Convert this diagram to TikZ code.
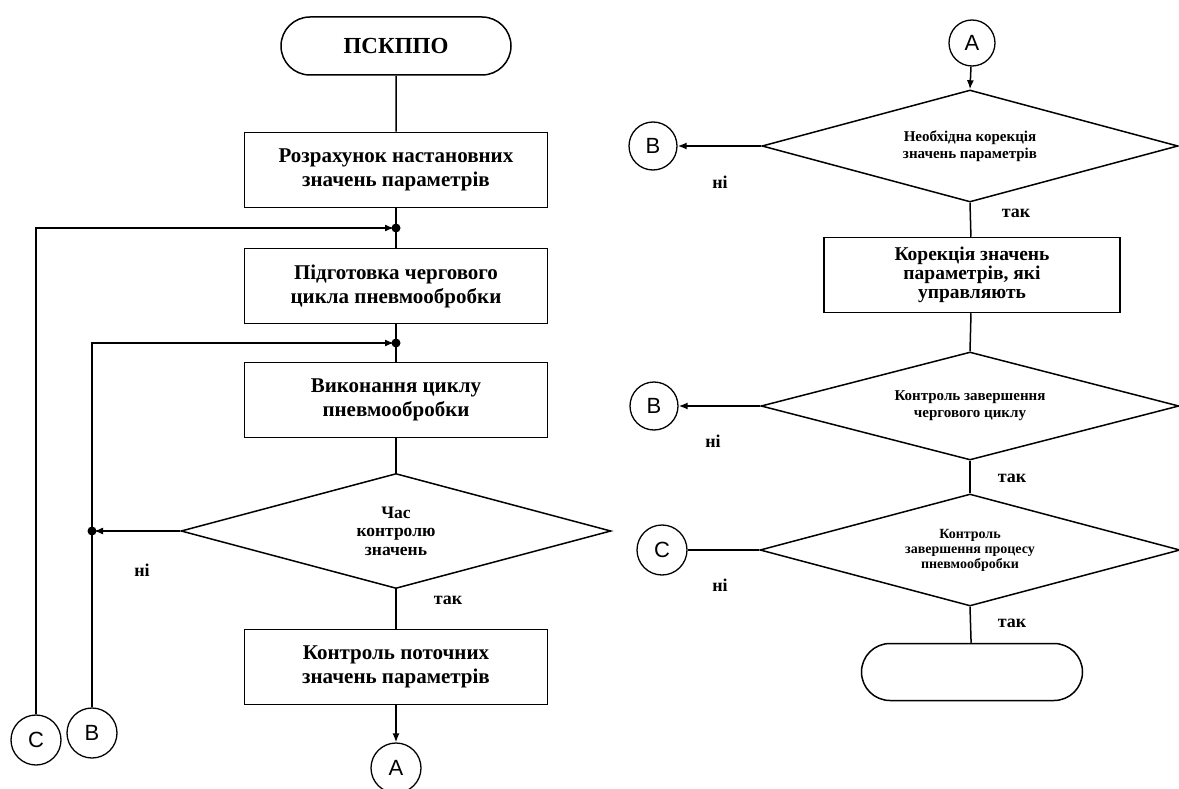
\documentclass[tikz,border=0pt]{standalone}
\usepackage{fontspec}
\setmainfont{Liberation Serif}
\newfontfamily\sansf{Liberation Sans}
\usetikzlibrary{shapes.geometric,shapes.misc,arrows.meta}
\tikzset{
  ln/.style={line width=1.5pt},
  blk/.style={draw, line width=1.5pt, minimum width=303pt, minimum height=75pt, align=center, inner sep=0pt,
    font=\bfseries\fontsize{21}{24}\selectfont},
  term/.style={draw, rounded rectangle, line width=1.5pt, minimum width=230pt, minimum height=58pt, inner sep=0pt,
    font=\bfseries\fontsize{23}{26}\selectfont},
  dec/.style={draw, diamond, line width=1.5pt, aspect=3.8, inner sep=0pt, align=center},
  conn/.style={draw, circle, line width=1.3pt, minimum size=50pt, inner sep=0pt, font=\sansf\fontsize{22}{22}\selectfont},
  arr/.style={line width=1.5pt, -{Latex[length=9pt,width=7pt]}},
  lbl/.style={font=\bfseries\fontsize{18}{18}\selectfont},
}
\begin{document}
\begin{tikzpicture}[x=1pt,y=-1pt]
\fill[white] (0,0) rectangle (1179,789);
\useasboundingbox (0,0) rectangle (1179,789);
% ---------- left column ----------
\node[term] (T1) at (396,46) {ПСКППО};
\node[blk] (P1) at (396,170) {Розрахунок настановних\\значень параметрів};
\coordinate (J1) at (396,228);
\node[blk] (P2) at (396,286) {Підготовка чергового\\цикла пневмообробки};
\coordinate (J2) at (396,343);
\node[blk] (P3) at (396,400) {Виконання циклу\\пневмообробки};
\node[dec, minimum width=430pt, minimum height=115pt, font=\bfseries\fontsize{17.5}{18.5}\selectfont] (D1) at (396,531) {Час\\контролю\\значень};
\coordinate (J3) at (92,531);
\node[blk] (P4) at (396,667) {Контроль поточних\\значень параметрів};
\node[conn] (A1) at (396,768) {A};
\node[conn] (C1) at (36,740) {C};
\node[conn] (B1) at (92,733) {B};
\node[lbl] (n1) at (142,570) {ні};
\node[lbl] (t1) at (448,600) {так};
\draw[ln] (T1) -- (P1);
\draw[ln] (P1) -- (P2);
\draw[ln] (P2) -- (P3);
\draw[ln] (P3) -- (D1);
\draw[ln] (D1) -- (P4);
\draw[arr] (P4) -- (A1);
\draw[arr, shorten >=2pt] (C1.north) |- (J1);
\draw[arr, shorten >=2pt] (B1.north) |- (J2);
\draw[arr, shorten >=2pt] (D1.west) -- (J3);
\fill (J1) circle (4.5pt);
\fill (J2) circle (4.5pt);
\fill (J3) circle (4.5pt);
% ---------- right column ----------
\node[conn, minimum size=46pt] (A2) at (972,43) {A};
\node[dec, minimum width=416pt, minimum height=112pt, font=\bfseries\fontsize{15}{16.5}\selectfont] (D2) at (970,146) {Необхідна корекція\\значень параметрів};
\node[conn, minimum size=48pt] (B3) at (653,146) {B};
\node[lbl] (n2) at (720,182) {ні};
\node[lbl] (t2) at (1016,213) {так};
\node[blk, minimum width=296pt, font=\bfseries\fontsize{19.5}{19}\selectfont] (P5) at (972,275) {Корекція значень\\параметрів, які\\управляють};
\node[dec, minimum width=418pt, minimum height=108pt, font=\bfseries\fontsize{15}{17}\selectfont] (D3) at (970,406) {Контроль завершення\\чергового циклу};
\node[conn, minimum size=48pt] (B4) at (654,406) {B};
\node[lbl] (n3) at (713,441) {ні};
\node[lbl] (t3) at (1012,478) {так};
\node[dec, minimum width=420pt, minimum height=112pt, font=\bfseries\fontsize{14}{15}\selectfont] (D4) at (970,550) {Контроль\\завершення процесу\\пневмообробки};
\node[conn] (C2) at (662,550) {C};
\node[lbl] (n4) at (720,585) {ні};
\node[lbl] (t4) at (1012,623) {так};
\node[term, minimum width=221pt, minimum height=57pt] (T2) at (972,672) {};
\draw[arr] (A2) -- (D2.north);
\draw[arr] (D2.west) -- (B3);
\draw[ln] (D2.south) -- (P5);
\draw[ln] (P5) -- (D3.north);
\draw[arr] (D3.west) -- (B4);
\draw[ln] (D3.south) -- (D4.north);
\draw[ln] (D4.west) -- (C2);
\draw[ln] (D4.south) -- (T2);
\end{tikzpicture}
\end{document}
